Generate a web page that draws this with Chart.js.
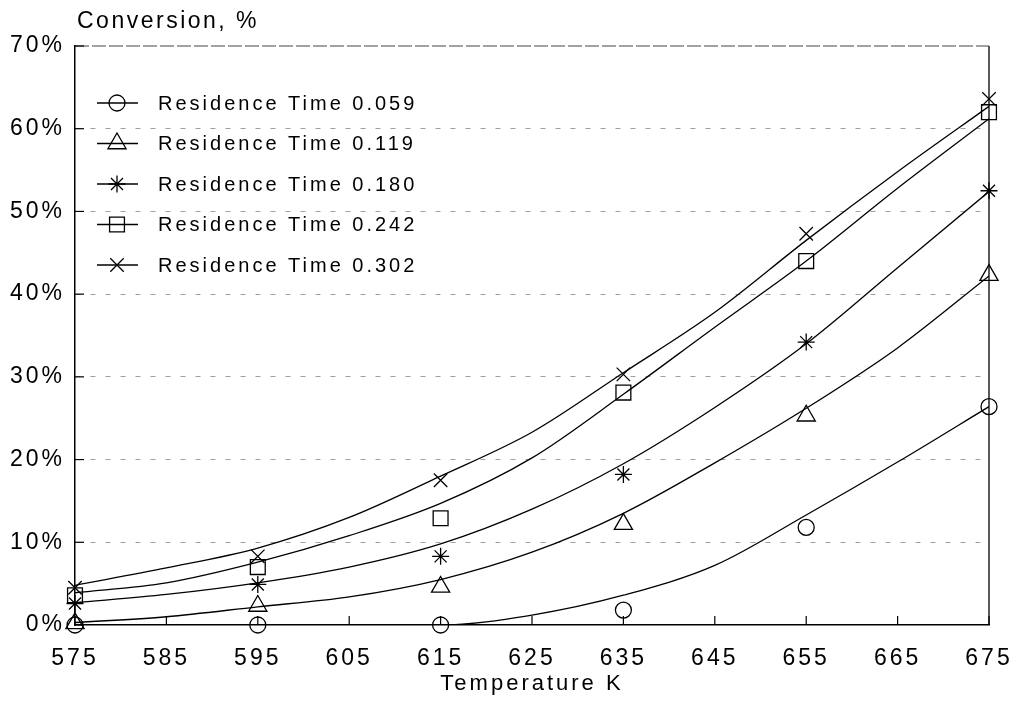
<!DOCTYPE html>
<html>
<head>
<meta charset="utf-8">
<script src="https://cdn.jsdelivr.net/npm/chart.js@4.4.1/dist/chart.umd.min.js"></script>
<style>
  html, body { margin: 0; padding: 0; background: #fff; }
  #wrap { width: 1018px; height: 701px; }
</style>
</head>
<body>
<div id="wrap"><canvas id="chart"></canvas></div>
<script>
// measured temperatures (K) and conversion (%)
const temps = [575, 595, 615, 635, 655, 675];
const rt059 = [0, 0, 0, 1.8, 11.8, 26.4];
const rt119 = [0.2, 2.3, 4.6, 12.2, 25.3, 42.3];
const rt180 = [2.6, 4.9, 8.3, 18.2, 34.2, 52.5];
const rt242 = [3.6, 7.0, 12.9, 28.1, 44.0, 62.0];
const rt302 = [4.5, 8.3, 17.5, 30.3, 47.3, 63.6];

// fitted curves, every 10 K
const fitTemps = [575, 585, 595, 605, 615, 625, 635, 645, 655, 665, 675];
const fit059 = [0, 0, 0, 0, 0, 1.2, 3.6, 7.2, 13.3, 19.7, 26.4];
const fit119 = [0.3, 1.0, 2.2, 3.4, 5.5, 8.8, 13.5, 19.6, 26.2, 33.5, 42.2];
const fit180 = [2.7, 3.7, 5.1, 7.0, 9.8, 14.0, 19.5, 26.3, 34.0, 43.2, 52.4];
const fit242 = [3.9, 5.1, 7.6, 10.8, 14.7, 20.2, 27.9, 36.0, 44.0, 52.8, 61.2];
const fit302 = [4.8, 6.9, 9.3, 13.0, 18.0, 23.3, 30.5, 37.8, 46.5, 54.8, 62.7];

const seriesNames = ['Residence Time 0.059', 'Residence Time 0.119', 'Residence Time 0.180',
                     'Residence Time 0.242', 'Residence Time 0.302'];
const markers = ['circle', 'triangle', 'star', 'rect', 'crossRot'];
const markerSize = [8, 10.5, 8.5, 10.5, 9.5];
const yTitle = 'Conversion, %';
const xTitle = 'Temperature K';

const measured = [rt059, rt119, rt180, rt242, rt302];
const fitted = [fit059, fit119, fit180, fit242, fit302];

const FONT = "'Liberation Sans', Arial, sans-serif";
const INK = '#000';

const datasets = [];
fitted.forEach(function (vals, i) {
    datasets.push({
        label: seriesNames[i] + ' fit',
        data: fitTemps.map((t, j) => ({ x: t, y: vals[j] })),
        borderColor: INK,
        borderWidth: 1.3,
        pointRadius: 0,
        fill: false,
        cubicInterpolationMode: 'monotone'
    });
});
measured.forEach(function (vals, i) {
    datasets.push({
        label: seriesNames[i],
        data: temps.map((t, j) => ({ x: t, y: vals[j] })),
        showLine: false,
        pointStyle: markers[i],
        pointRadius: markerSize[i],
        pointBorderColor: INK,
        pointBackgroundColor: 'rgba(0,0,0,0)',
        pointBorderWidth: 1.3,
        clip: false
    });
});

// wide tracking like the original labels
const spacingPlugin = {
    id: 'spacing',
    beforeUpdate(chart) { chart.ctx.letterSpacing = '3px'; },
    beforeDraw(chart) { chart.ctx.letterSpacing = '3px'; }
};

// plot frame + inside tick marks
const framePlugin = {
    id: 'frame',
    beforeDatasetsDraw(chart) {
        const ctx = chart.ctx;
        const a = chart.chartArea;
        const xs = chart.scales.x, ys = chart.scales.y;
        ctx.save();
        ctx.strokeStyle = INK;
        ctx.lineWidth = 1.3;
        ctx.beginPath();
        ctx.moveTo(a.right, a.bottom);
        ctx.lineTo(a.right, a.top);
        ctx.stroke();
        ctx.strokeStyle = '#444';
        ctx.lineWidth = 1;
        ctx.setLineDash([14, 3]);
        ctx.beginPath();
        ctx.moveTo(a.left, a.top);
        ctx.lineTo(a.right, a.top);
        ctx.stroke();
        ctx.setLineDash([]);
        ctx.strokeStyle = INK;
        ctx.lineWidth = 1.2;
        xs.ticks.forEach(function (t) {
            const px = xs.getPixelForValue(t.value);
            ctx.beginPath();
            ctx.moveTo(px, a.bottom);
            ctx.lineTo(px, a.bottom - 9);
            ctx.stroke();
        });
        ys.ticks.forEach(function (t) {
            const py = ys.getPixelForValue(t.value);
            ctx.beginPath();
            ctx.moveTo(a.left, py);
            ctx.lineTo(a.left + 9, py);
            ctx.stroke();
        });
        ctx.restore();
    }
};

// y title at top-left and the line+marker legend
const legendPlugin = {
    id: 'legendBox',
    afterDraw(chart) {
        const ctx = chart.ctx;
        const a = chart.chartArea;
        ctx.save();
        ctx.fillStyle = INK;
        ctx.textBaseline = 'middle';
        ctx.textAlign = 'left';
        ctx.letterSpacing = '2.5px';
        ctx.font = '23px ' + FONT;
        ctx.fillText(yTitle, a.left + 2, 22);

        ctx.letterSpacing = '3px';
        ctx.font = '20px ' + FONT;
        seriesNames.forEach(function (name, i) {
            const y = a.top + 57 + i * 40.5;
            ctx.strokeStyle = INK;
            ctx.lineWidth = 1.3;
            ctx.beginPath();
            ctx.moveTo(a.left + 22, y);
            ctx.lineTo(a.left + 63, y);
            ctx.stroke();
            const opts = { pointStyle: markers[i], radius: markerSize[i], rotation: 0, borderWidth: 1.3 };
            ctx.fillStyle = 'rgba(0,0,0,0)';
            Chart.helpers.drawPoint(ctx, opts, a.left + 42, y);
            ctx.fillStyle = INK;
            ctx.fillText(name, a.left + 83, y + 1);
        });
        ctx.restore();
    }
};

new Chart(document.getElementById('chart'), {
    type: 'line',
    data: { datasets: datasets },
    options: {
        responsive: true,
        maintainAspectRatio: false,
        animation: false,
        layout: { padding: { left: 0, right: 29, top: 46, bottom: 4 } },
        plugins: {
            legend: { display: false },
            tooltip: { enabled: false },
            title: { display: false }
        },
        scales: {
            x: {
                type: 'linear',
                min: 575,
                max: 675,
                ticks: {
                    stepSize: 10,
                    color: INK,
                    padding: 20,
                    font: { family: FONT, size: 23 },
                    maxRotation: 0
                },
                grid: { display: true, drawOnChartArea: false, drawTicks: false },
                border: { display: true, color: INK, width: 1.5 },
                title: {
                    display: true,
                    text: xTitle,
                    color: INK,
                    font: { family: FONT, size: 22 },
                    padding: { top: 0, bottom: 0 }
                },
                afterFit(scale) {
                    scale.height = 72;
                    scale.paddingLeft = 0;
                    scale.paddingRight = 0;
                }
            },
            y: {
                min: 0,
                max: 70,
                ticks: {
                    stepSize: 10,
                    color: INK,
                    padding: 10,
                    font: { family: FONT, size: 23 },
                    callback: v => v + '%'
                },
                grid: {
                    drawTicks: false,
                    color: ctx => (ctx.tick && (ctx.tick.value === 0 || ctx.tick.value === 70)) ? 'rgba(0,0,0,0)' : '#a0a0a0',
                    lineWidth: 1
                },
                border: { display: true, color: INK, width: 1.5, dash: [5, 10] },
                afterFit(scale) { scale.width = 75; }
            }
        }
    },
    plugins: [spacingPlugin, framePlugin, legendPlugin]
});
</script>
</body>
</html>
